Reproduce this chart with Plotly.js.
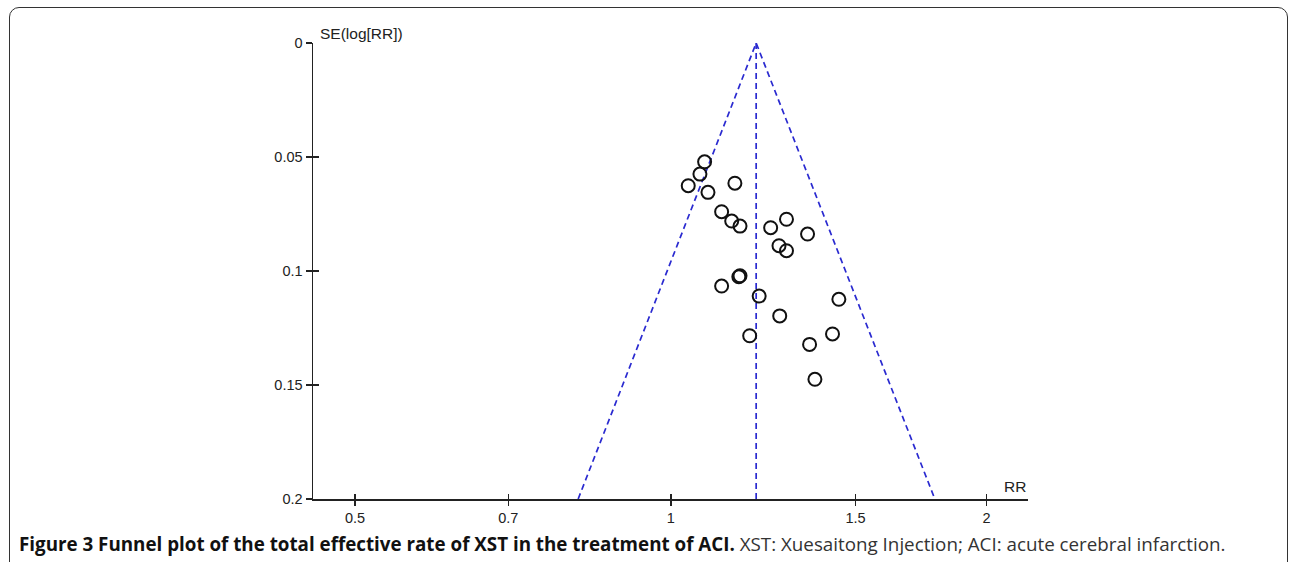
<!DOCTYPE html>
<html>
<head>
<meta charset="utf-8">
<script src="https://cdn.plot.ly/plotly-3.0.1.min.js"></script>
<style>
  html, body { margin: 0; padding: 0; background: #fff; overflow: hidden; }
  #wrap { position: relative; width: 1292px; height: 562px; }
  #frame { position: absolute; left: 9px; top: 7px; width: 1279px; height: 620px;
           border: 1.5px solid #333; border-radius: 10px; box-sizing: border-box; }
  #chart { position: absolute; left: 0; top: 0; width: 1292px; height: 562px; }
</style>
</head>
<body>
<div id="wrap">
  <div id="frame"></div>
  <div id="chart"></div>
</div>
<script>
// Study effect sizes (RR) and standard errors of log(RR)
const studyRR = [1.077, 1.066, 1.039, 1.085, 1.151, 1.118, 1.143, 1.164, 1.245, 1.289, 1.350, 1.268, 1.289,
                 1.118, 1.161, 1.164, 1.214, 1.270, 1.446, 1.189, 1.356, 1.426, 1.372];
const studySE = [0.0521, 0.0575, 0.0626, 0.0655, 0.0615, 0.0740, 0.0781, 0.0803, 0.0810, 0.0773, 0.0838, 0.0889, 0.0911,
                 0.1066, 0.1025, 0.1021, 0.1110, 0.1197, 0.1124, 0.1284, 0.1322, 0.1276, 0.1475];
// Pooled estimate and 95% pseudo-confidence funnel limits
const pooledRR = [1.206, 1.206];
const pooledSE = [0, 0.2];
const funnelRR = [0.816, 1.206, 1.785];
const funnelSE = [0.2, 0, 0.2];
// Axis ticks
const xTickVals = [0.5, 0.7, 1, 1.5, 2];
const xTickText = ['0.5', '0.7', '1', '1.5', '2'];
const yTickVals = [0, 0.05, 0.1, 0.15, 0.2];
const yTickText = ['0', '0.05', '0.1', '0.15', '0.2'];

const blue = '#2a2ad0';
const traces = [
  { x: funnelRR, y: funnelSE, type: 'scatter', mode: 'lines',
    line: { color: blue, width: 1.7, dash: '6px,4px' }, hoverinfo: 'skip' },
  { x: pooledRR, y: pooledSE, type: 'scatter', mode: 'lines',
    line: { color: blue, width: 1.7, dash: '6px,4px' }, hoverinfo: 'skip' },
  { x: studyRR, y: studySE, type: 'scatter', mode: 'markers',
    marker: { symbol: 'circle-open', size: 13, color: '#111', line: { width: 2, color: '#111' } } }
];

const xr = [Math.log10(0.456), Math.log10(2.19)];
const yr = [0.2, 0];
const tickFont = { family: 'Liberation Sans, Arial, sans-serif', size: 14.5, color: '#222' };
const labelFont = { family: 'Liberation Sans, Arial, sans-serif', size: 15.5, color: '#222' };

const layout = {
  width: 1292, height: 562,
  margin: { l: 313, r: 264, t: 43, b: 63 },
  paper_bgcolor: 'rgba(0,0,0,0)', plot_bgcolor: 'rgba(0,0,0,0)',
  showlegend: false,
  xaxis: { type: 'log', range: xr, tickvals: xTickVals, ticktext: xTickText,
           showline: true, linecolor: '#222', linewidth: 1.5, showgrid: false, zeroline: false,
           ticks: 'outside', ticklen: 5, tickwidth: 1.5, tickcolor: '#222', tickfont: tickFont },
  xaxis2: { type: 'log', range: xr, tickvals: xTickVals, overlaying: 'x', showticklabels: false,
            showline: false, showgrid: false, zeroline: false,
            ticks: 'inside', ticklen: 5, tickwidth: 1.5, tickcolor: '#222' },
  yaxis: { range: yr, tickvals: yTickVals, ticktext: yTickText,
           showline: true, linecolor: '#222', linewidth: 1.5, showgrid: false, zeroline: false,
           ticks: 'outside', ticklen: 6, tickwidth: 1.5, tickcolor: '#222', tickfont: tickFont },
  yaxis2: { range: yr, tickvals: yTickVals, overlaying: 'y', showticklabels: false,
            showline: false, showgrid: false, zeroline: false,
            ticks: 'inside', ticklen: 6, tickwidth: 1.5, tickcolor: '#222' },
  annotations: [
    { text: 'SE(log[RR])', xref: 'paper', yref: 'paper', x: 0, y: 1, xanchor: 'left', yanchor: 'middle',
      xshift: 5, yshift: 10, showarrow: false, font: labelFont },
    { text: 'RR', xref: 'paper', yref: 'paper', x: 1, y: 0, xanchor: 'right', yanchor: 'bottom',
      xshift: 0, yshift: 2, showarrow: false, font: labelFont },
    { text: '<b>Figure 3 Funnel plot of the total effective rate of XST in the treatment of ACI.</b> <span style="color:#333">XST: Xuesaitong Injection; ACI: acute cerebral infarction.</span>',
      xref: 'paper', yref: 'paper', x: 0, y: 0, xanchor: 'left', yanchor: 'middle',
      xshift: -296, yshift: -45, showarrow: false,
      font: { family: 'Open Sans, sans-serif', size: 18.8, color: '#111' } }
  ]
};

// Invisible trace to activate overlay axes for crossing ticks
traces.push({ x: [1], y: [0.1], xaxis: 'x2', yaxis: 'y2', type: 'scatter', mode: 'markers',
              marker: { opacity: 0 }, hoverinfo: 'skip' });

Plotly.newPlot('chart', traces, layout, { displayModeBar: false, staticPlot: true });
</script>
</body>
</html>
